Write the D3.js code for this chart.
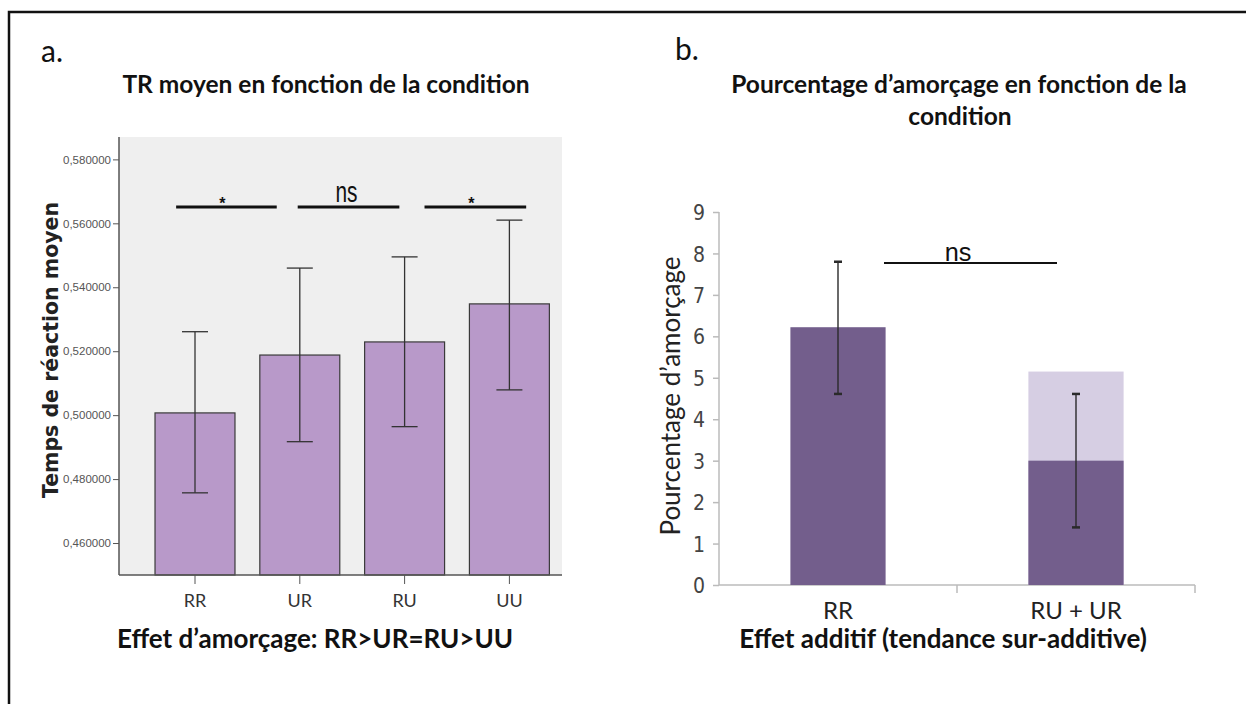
<!DOCTYPE html>
<html lang="fr">
<head>
<meta charset="utf-8">
<script src="https://cdn.jsdelivr.net/npm/d3@7"></script>
<style type="text/css">
body { margin: 0; background: #fff; }
.title { font-family: Lato, "Open Sans", sans-serif; font-weight: bold; fill: #111; }
.caption { font-family: Lato, "Open Sans", sans-serif; font-weight: bold; fill: #111; }
.axisA text { font-family: "Liberation Sans", Arial, sans-serif; font-size: 11.5px; fill: #555; }
.axisA path, .axisA line { stroke: #555; }
</style>
</head>
<body>
<script type="text/javascript">

// ---- panel a : mean reaction time per condition ----
var conditionsA = ["RR", "UR", "RU", "UU"];
var meanRT   = [0.5007, 0.5188, 0.5229, 0.5348];
var ciLowA   = [0.4757, 0.4917, 0.4964, 0.5079];
var ciHighA  = [0.5261, 0.5460, 0.5495, 0.5610];
var yTicksA  = [0.46, 0.48, 0.50, 0.52, 0.54, 0.56, 0.58];
var sigLabelsA = ["*", "ns", "*"];
// span of each significance bar, in bar-index units
var sigSpansA = [[-0.18, 0.78], [0.98, 1.95], [2.19, 3.16]];

// ---- panel b : priming percentage ----
var conditionsB = ["RR", "RU + UR"];
var primingPct  = [6.22, 3.0];
var additiveTop = [null, 5.15];
var errLowB     = [4.61, 1.39];
var errHighB    = [7.8, 4.61];
var yTicksB     = [0, 1, 2, 3, 4, 5, 6, 7, 8, 9];

var width = 1246, height = 704;

var svg = d3.select("body").append("svg")
	.attr("width", width)
	.attr("height", height);

// frame (top + left only)
svg.append("path")
	.attr("d", "M9,704 V12 H1246")
	.attr("fill", "none")
	.attr("stroke", "#111")
	.attr("stroke-width", 2.5);

// panel letters
svg.append("text").attr("x", 41).attr("y", 62)
	.style("font-family", "Lato, sans-serif").style("font-size", "30px").style("fill", "#111")
	.text("a.");
svg.append("text").attr("x", 675).attr("y", 60)
	.style("font-family", "Lato, sans-serif").style("font-size", "30px").style("fill", "#111")
	.text("b.");

// narrow, tall "ns" marks like the original
function nsLabel(x, y, sx, sy) {
	svg.append("text")
		.attr("transform", "translate(" + x + "," + y + ") scale(" + sx + "," + sy + ")")
		.attr("text-anchor", "middle")
		.style("font-family", "'Liberation Sans', Arial, sans-serif")
		.style("font-size", "22px")
		.style("fill", "#111")
		.text("ns");
}

/* ================= panel a ================= */
var plotA = {left: 119, right: 562, top: 137, bottom: 575};

var yA = d3.scaleLinear()
	.domain([0.45, 0.587])
	.range([plotA.bottom, plotA.top]);

var xA = d3.scaleBand()
	.domain(conditionsA)
	.range([142.6, 561.8])
	.paddingInner(0.237)
	.paddingOuter(0.237 / 2);

var xIdx = d3.scaleLinear().domain([0, 3])
	.range([xA("RR") + xA.bandwidth() / 2, xA("UU") + xA.bandwidth() / 2]);

svg.append("rect")
	.attr("x", plotA.left).attr("y", plotA.top)
	.attr("width", plotA.right - plotA.left)
	.attr("height", plotA.bottom - plotA.top)
	.attr("fill", "#efefef");

var gA = svg.append("g");

gA.selectAll("rect.bar")
	.data(meanRT)
	.enter().append("rect")
	.attr("class", "bar")
	.attr("x", function(d, i) { return xA(conditionsA[i]); })
	.attr("y", function(d) { return yA(d); })
	.attr("width", xA.bandwidth())
	.attr("height", function(d) { return plotA.bottom - yA(d); })
	.attr("fill", "#b899c9")
	.attr("stroke", "#3a3a3a")
	.attr("stroke-width", 1.2);

// error bars
var errA = gA.selectAll("g.err")
	.data(conditionsA)
	.enter().append("g")
	.attr("class", "err")
	.attr("transform", function(d) { return "translate(" + (xA(d) + xA.bandwidth() / 2) + ",0)"; })
	.attr("stroke", "#333")
	.attr("stroke-width", 1.3);
errA.append("line")
	.attr("y1", function(d, i) { return yA(ciLowA[i]); })
	.attr("y2", function(d, i) { return yA(ciHighA[i]); });
errA.append("line").attr("x1", -13).attr("x2", 13)
	.attr("y1", function(d, i) { return yA(ciLowA[i]); })
	.attr("y2", function(d, i) { return yA(ciLowA[i]); });
errA.append("line").attr("x1", -13).attr("x2", 13)
	.attr("y1", function(d, i) { return yA(ciHighA[i]); })
	.attr("y2", function(d, i) { return yA(ciHighA[i]); });

// axes
var axisLeftA = d3.axisLeft(yA)
	.tickValues(yTicksA)
	.tickSize(6)
	.tickPadding(2)
	.tickFormat(function(d) { return d3.format(".6f")(d).replace(".", ","); });
svg.append("g").attr("class", "axisA")
	.attr("transform", "translate(" + plotA.left + ",0)")
	.call(axisLeftA)
	.call(function(g) { g.select(".domain").attr("d", "M0," + plotA.top + "V" + plotA.bottom).attr("stroke-width", 1.5); });

var axisBottomA = d3.axisBottom(xA).tickSize(9).tickPadding(6);
var gxA = svg.append("g").attr("class", "axisA")
	.attr("transform", "translate(0," + plotA.bottom + ")")
	.call(axisBottomA);
gxA.select(".domain").attr("d", "M" + plotA.left + ",0H" + plotA.right).attr("stroke-width", 1.5);
gxA.selectAll("text")
	.attr("y", 32).attr("dy", null)
	.style("font-family", "Lato, sans-serif").style("font-size", "18px").style("fill", "#333");

// significance bars
sigSpansA.forEach(function(s, i) {
	svg.append("line")
		.attr("x1", xIdx(s[0])).attr("x2", xIdx(s[1]))
		.attr("y1", 207).attr("y2", 207)
		.attr("stroke", "#111").attr("stroke-width", 3);
	var cx = (xIdx(s[0]) + xIdx(s[1])) / 2;
	if (sigLabelsA[i] == "ns") {
		nsLabel(cx - 2, 202, 0.95, 1.3);
	} else {
		svg.append("text")
			.attr("x", cx - 4).attr("y", 209)
			.attr("text-anchor", "middle")
			.style("font-family", "'Liberation Sans', sans-serif")
			.style("font-size", "16px").style("font-weight", "bold")
			.style("fill", "#111")
			.text(sigLabelsA[i]);
	}
});

// y label
svg.append("text")
	.attr("transform", "translate(58,350) rotate(-90)")
	.attr("text-anchor", "middle")
	.style("font-family", "'DejaVu Sans', Verdana, sans-serif")
	.style("font-weight", "bold")
	.style("font-size", "20.5px")
	.style("fill", "#222")
	.text("Temps de réaction moyen");

svg.append("text").attr("class", "title")
	.attr("x", 326).attr("y", 93)
	.attr("text-anchor", "middle")
	.style("font-size", "24.5px")
	.text("TR moyen en fonction de la condition");

svg.append("text").attr("class", "caption")
	.attr("x", 117).attr("y", 648)
	.style("font-size", "26px")
	.text("Effet d\u2019amorçage: RR>UR=RU>UU");

/* ================= panel b ================= */
var plotB = {left: 719, right: 1195, top: 212, bottom: 585};

var yB = d3.scaleLinear().domain([0, 9]).range([plotB.bottom, plotB.top]);
var xB = d3.scaleBand()
	.domain(conditionsB)
	.range([plotB.left, plotB.right])
	.paddingInner(0.6)
	.paddingOuter(0.3);

var axisLeftB = d3.axisLeft(yB).tickValues(yTicksB).tickSize(6).tickPadding(8).tickFormat(d3.format("d"));
var gyB = svg.append("g")
	.attr("transform", "translate(" + plotB.left + ",0)")
	.call(axisLeftB);
gyB.select(".domain").attr("d", "M0," + plotB.top + "V" + plotB.bottom);
gyB.selectAll("path, line").attr("stroke", "#bbb").attr("stroke-width", 1.5);
gyB.selectAll("text")
	.style("font-family", "'DejaVu Sans Condensed', 'Liberation Sans', sans-serif")
	.style("font-size", "21px").style("fill", "#444")
	.attr("dy", "0.36em");

// x axis with category boundary ticks
svg.append("line")
	.attr("x1", plotB.left).attr("x2", plotB.right)
	.attr("y1", plotB.bottom).attr("y2", plotB.bottom)
	.attr("stroke", "#bbb").attr("stroke-width", 1.5);
[0.5, 1].forEach(function(f) {
	var xx = plotB.left + f * (plotB.right - plotB.left);
	svg.append("line")
		.attr("x1", xx).attr("x2", xx)
		.attr("y1", plotB.bottom).attr("y2", plotB.bottom + 8)
		.attr("stroke", "#bbb").attr("stroke-width", 1.5);
});

var gB = svg.append("g");
// light (additive) part behind
gB.selectAll("rect.add")
	.data(additiveTop)
	.enter().filter(function(d) { return d != null; })
	.append("rect")
	.attr("class", "add")
	.attr("x", function(d, i) { return xB(conditionsB[1]); })
	.attr("y", function(d) { return yB(d); })
	.attr("width", xB.bandwidth())
	.attr("height", function(d) { return plotB.bottom - yB(d); })
	.attr("fill", "#d6cee3");

gB.selectAll("rect.prim")
	.data(primingPct)
	.enter().append("rect")
	.attr("class", "prim")
	.attr("x", function(d, i) { return xB(conditionsB[i]); })
	.attr("y", function(d) { return yB(d); })
	.attr("width", xB.bandwidth())
	.attr("height", function(d) { return plotB.bottom - yB(d); })
	.attr("fill", "#735e8c");

var errB = gB.selectAll("g.err")
	.data(conditionsB)
	.enter().append("g")
	.attr("transform", function(d) { return "translate(" + (xB(d) + xB.bandwidth() / 2) + ",0)"; })
	.attr("stroke", "#2a2a2a")
	.attr("stroke-width", 1.4);
errB.append("line")
	.attr("y1", function(d, i) { return yB(errLowB[i]); })
	.attr("y2", function(d, i) { return yB(errHighB[i]); });
errB.append("line").attr("x1", -4).attr("x2", 4).attr("stroke-width", 2.5)
	.attr("y1", function(d, i) { return yB(errLowB[i]); })
	.attr("y2", function(d, i) { return yB(errLowB[i]); });
errB.append("line").attr("x1", -4).attr("x2", 4).attr("stroke-width", 2.5)
	.attr("y1", function(d, i) { return yB(errHighB[i]); })
	.attr("y2", function(d, i) { return yB(errHighB[i]); });

// x labels
svg.selectAll("text.xlabB")
	.data(conditionsB)
	.enter().append("text")
	.attr("class", "xlabB")
	.attr("x", function(d) { return xB(d) + xB.bandwidth() / 2; })
	.attr("y", 619)
	.attr("text-anchor", "middle")
	.style("font-family", "Lato, sans-serif")
	.style("font-size", "24px")
	.style("fill", "#222")
	.text(function(d) { return d; });

// ns bar
svg.append("line")
	.attr("x1", 884).attr("x2", 1057)
	.attr("y1", 263).attr("y2", 263)
	.attr("stroke", "#111").attr("stroke-width", 2.2);
nsLabel(958, 261, 1.15, 1.15);

svg.append("text")
	.attr("transform", "translate(680,396) rotate(-90)")
	.attr("text-anchor", "middle")
	.style("font-family", "Lato, sans-serif")
	.style("font-size", "26px")
	.style("fill", "#222")
	.text("Pourcentage d\u2019amorçage");

svg.append("text").attr("class", "title")
	.attr("x", 959).attr("y", 93)
	.attr("text-anchor", "middle")
	.style("font-size", "24.5px")
	.text("Pourcentage d\u2019amorçage en fonction de la");
svg.append("text").attr("class", "title")
	.attr("x", 960).attr("y", 125)
	.attr("text-anchor", "middle")
	.style("font-size", "24.5px")
	.text("condition");

svg.append("text").attr("class", "caption")
	.attr("x", 943).attr("y", 648)
	.attr("text-anchor", "middle")
	.style("font-size", "26px")
	.text("Effet additif (tendance sur-additive)");

</script>
</body>
</html>
